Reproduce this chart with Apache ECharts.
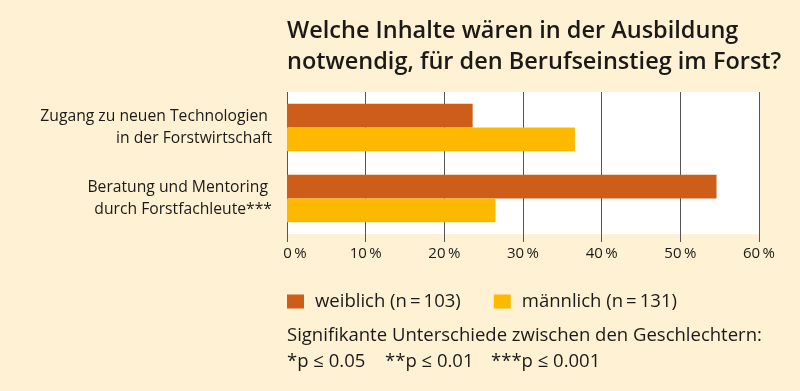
<!DOCTYPE html>
<html><head><meta charset="utf-8">
<script src="https://cdn.jsdelivr.net/npm/echarts@6/dist/echarts.min.js"></script>
<style>html,body{margin:0;padding:0;background:#FEF1D4;}#c{width:800px;height:391px;}</style>
</head><body><div id="c"></div>
<script>
const titleLines = ['Welche Inhalte wären in der Ausbildung', 'notwendig, für den Berufseinstieg im Forst?'];
const categories = ['Zugang zu neuen Technologien \nin der Forstwirtschaft', 'Beratung und Mentoring \ndurch Forstfachleute***'];
const seriesNames = ['weiblich (n\u2009=\u2009103)', 'männlich (n\u2009=\u2009131)'];
const weiblich = [23.6, 54.6];
const maennlich = [36.6, 26.5];
const xTicks = { min: 0, max: 60, interval: 10 };
const footLine1 = 'Signifikante Unterschiede zwischen den Geschlechtern:';
const footSig = ['*p ≤ 0.05', '**p ≤ 0.01', '***p ≤ 0.001'];

const FONT = '"Open Sans", "Noto Sans", sans-serif';
const TXT = '#1c1a17';
const chart = echarts.init(document.getElementById('c'), null, { renderer: 'canvas' });
chart.setOption({
  backgroundColor: '#FEF1D4',
  animation: false,
  textStyle: { fontFamily: FONT },
  title: {
    text: titleLines.join('\n'), left: 282, top: 11,
    textStyle: { fontFamily: FONT, fontSize: 23.5, fontWeight: 600, color: TXT, lineHeight: 31 }
  },
  legend: {
    data: seriesNames, left: 282, top: 287, itemWidth: 17, itemHeight: 14, itemGap: 33,
    icon: 'rect',
    textStyle: { fontFamily: FONT, fontSize: 18.5, color: TXT, padding: [0, 0, 0, 6] }
  },
  grid: { left: 287, right: 41, top: 92, bottom: 157, show: true, backgroundColor: '#ffffff', borderWidth: 0 },
  xAxis: {
    type: 'value', min: xTicks.min, max: xTicks.max, interval: xTicks.interval,
    axisLine: { show: false },
    axisTick: { show: true, length: 8, lineStyle: { color: '#555', width: 1 } },
    splitLine: { show: true, lineStyle: { color: '#555', width: 1 } },
    axisLabel: {
      margin: 12, fontSize: 15, color: TXT, fontFamily: FONT,
      formatter: v => v === 0 ? '{z|0\u2009%}' : v + '\u2009%',
      rich: { z: { fontSize: 15, color: TXT, fontFamily: FONT, padding: [0, 0, 0, 16] } }
    }
  },
  yAxis: {
    type: 'category', inverse: true, data: categories,
    axisLine: { show: false }, axisTick: { show: false }, splitLine: { show: false },
    axisLabel: { margin: 15, fontSize: 15.7, color: TXT, lineHeight: 22, fontFamily: FONT, padding: [5, 0, 0, 0] }
  },
  series: [
    { name: seriesNames[0], type: 'bar', data: weiblich, barGap: 0, barCategoryGap: '33%', itemStyle: { color: '#CC5E1A' } },
    { name: seriesNames[1], type: 'bar', data: maennlich, barGap: 0, barCategoryGap: '33%', itemStyle: { color: '#FDB900' } }
  ],
  graphic: [
    { type: 'text', left: 287, top: 326, style: { text: footLine1, fontFamily: FONT, fontSize: 18.5, fill: TXT } },
    { type: 'text', left: 287, top: 352, style: { text: footSig[0], fontFamily: FONT, fontSize: 18.5, fill: TXT } },
    { type: 'text', left: 385, top: 352, style: { text: footSig[1], fontFamily: FONT, fontSize: 18.5, fill: TXT } },
    { type: 'text', left: 491, top: 352, style: { text: footSig[2], fontFamily: FONT, fontSize: 18.5, fill: TXT } }
  ]
});
</script></body></html>
